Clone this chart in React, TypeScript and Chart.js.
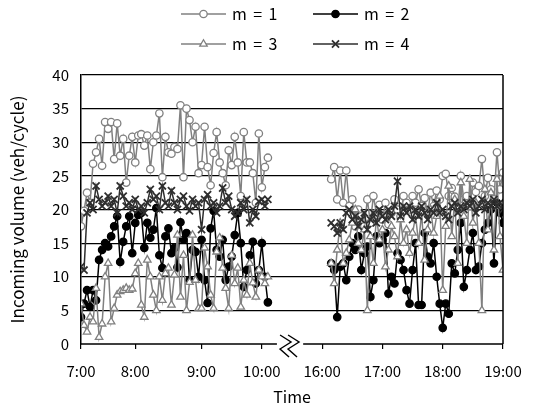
import React, { useEffect, useRef } from 'react';
import { Chart, registerables } from 'chart.js';
Chart.register(...registerables);

const seriesNames = ['m = 1', 'm = 2', 'm = 3', 'm = 4'];
const tickPositions = [0, 18, 40, 60, 80, 100, 120, 140];
const tickLabels = ['7:00', '8:00', '9:00', '10:00', '16:00', '17:00', '18:00', '19:00'];
const yTickStep = 5;
const morningStart = 0;
const afternoonStart = 83;
const breakRange = [65, 73.7];

const m1Morning = [17.5, 19.8, 22.5, 21, 26.8, 28.5, 30.5, 26.5, 33, 32, 33, 27.5, 32.8, 28, 30.5, 24, 28, 30.8, 27, 31, 31.2, 29.5, 31, 26, 30, 31, 34.3, 24.8, 30.8, 28.5, 28.3, 29.3, 29, 35.5, 24.8, 35, 33.3, 30, 32.3, 25.4, 26.6, 32.3, 26.3, 23.6, 28.4, 31.5, 27, 25.4, 23.6, 28.8, 26.6, 30.8, 27, 22, 31.5, 27, 27, 25.4, 21, 31.3, 23.3, 26.3, 27.7];
const m2Morning = [4, 6, 8, 5.5, 8, 6.5, 12.5, 14, 15, 14.5, 16, 17.5, 19, 12.2, 15.2, 17.5, 19, 13.5, 18, 19.2, 19.5, 14.3, 18, 15.8, 17, 20.2, 13.2, 11.3, 16, 17.2, 13.5, 14.3, 11.4, 18.1, 15.5, 16.5, 9.5, 14, 13.7, 10, 15.5, 9.5, 6.1, 17.2, 19.8, 14, 13, 15.5, 9.5, 11.5, 13, 16.2, 19.5, 15, 8.5, 11, 13.2, 15.2, 9, 11, 15, 10, 6.2];
const m3Morning = [6, 2.8, 1.8, 4, 3.3, 8.3, 1, 3, 10, 12, 3.3, 5.3, 7.3, 7.8, 8, 8.3, 8, 8.2, 10.5, 12, 5.8, 4, 12.5, 10, 7.3, 5, 10, 6.5, 10.5, 11.3, 5.8, 10.3, 16.2, 7, 13.2, 5, 9.2, 16.2, 9.5, 5.3, 5.3, 14.3, 11.5, 7.3, 5.3, 13.7, 15.8, 11.3, 8.3, 5.3, 13.2, 9, 11.3, 5.5, 9.5, 7.3, 12, 9.1, 7, 11, 10, 9, 10];
const m4Morning = [11.5, 11, 19.5, 21, 20, 23.5, 21.5, 20.5, 21, 22, 20.5, 21.5, 19.5, 23.5, 22, 20.5, 21, 20, 21.5, 20, 20.5, 19.5, 21, 23, 21.5, 22, 20, 23.5, 21, 20.5, 22.8, 21, 20, 21.5, 22, 20.5, 19.8, 21.5, 20.5, 21, 17, 21.5, 22.2, 20.5, 21, 19.5, 20.5, 23.2, 21, 22, 20, 19, 19.5, 21, 20, 21.5, 18, 20, 19, 21.2, 21.5, 20.5, 21.5];

const m1Afternoon = [24.5, 26.3, 21.5, 25.8, 21, 25.8, 20.5, 21.5, 17.5, 20, 19, 17.5, 21.5, 18, 22, 19.5, 20.7, 18.5, 21, 17.8, 19.5, 21.5, 20, 19, 22, 21, 20, 22, 21, 23, 20.5, 21.7, 19.5, 22.5, 20.5, 22.8, 21.5, 25, 25.3, 22, 23.2, 21.9, 20, 25, 21.5, 22, 20.5, 24, 22.6, 23.5, 27.5, 22, 24.7, 23, 21.5, 28.5, 23, 25.5];
const m2Afternoon = [12, 11, 4, 11.5, 12, 9.5, 13, 15, 14, 16, 11, 13.5, 14.5, 7, 9.5, 16, 15, 15.5, 16.5, 7.5, 10, 9, 13.5, 12.5, 11, 8, 6, 11, 15, 5.8, 5.8, 16.5, 13, 12, 15, 10, 6, 2.4, 6, 4.5, 12, 10.5, 14, 18, 8.5, 11, 14, 16.5, 11, 11.5, 15, 17, 18, 20, 12, 21, 19.5, 18];
const m3Afternoon = [12, 9, 14, 18, 12, 13.5, 15.5, 18, 20, 15, 14, 17, 5, 16, 12, 19, 15.5, 17, 11.5, 14, 17.5, 16, 13, 18.5, 15, 17, 13.5, 16.5, 19, 15, 19.5, 12.5, 17, 20, 16.5, 19, 22, 8, 17.5, 23.5, 16, 21.5, 12, 24, 19, 15, 24.5, 18, 21, 15, 5, 23, 17, 22.5, 14, 24.5, 16, 11];
const m4Afternoon = [18, 17.5, 16.5, 18, 17, 19.5, 20, 18.5, 19, 17.5, 18.5, 19.5, 17, 18.5, 19.5, 18, 20, 19, 18.5, 20, 19, 20.5, 24.2, 19, 20.5, 19.5, 20.5, 18.5, 20, 19, 20.5, 19.5, 18.5, 20, 19.5, 21, 19.5, 20, 19, 18.5, 20.5, 21, 19.5, 20.5, 20, 21, 20.5, 21.5, 19.5, 20.5, 21.5, 20, 21, 20.5, 21.5, 20.5, 21, 20];

const FONT = '"Noto Sans CJK JP", "Noto Sans", sans-serif';
const GRAY = '#808080';
const DARK = '#2e2e2e';

function buildPoints(morning: number[], afternoon: number[]) {
  const pts: { x: number; y: number | null }[] = morning.map((v, i) => ({ x: morningStart + i, y: v }));
  pts.push({ x: (breakRange[0] + breakRange[1]) / 2, y: null });
  afternoon.forEach((v, i) => pts.push({ x: afternoonStart + i, y: v }));
  return pts;
}

const styles = [
  { line: GRAY, marker: 'circle', fill: '#ffffff', stroke: GRAY, r: 3.7, bw: 1.3 },
  { line: '#000000', marker: 'circle', fill: '#000000', stroke: '#000000', r: 3.7, bw: 1.3 },
  { line: GRAY, marker: 'triangle', fill: '#ffffff', stroke: GRAY, r: 4.3, bw: 1.3 },
  { line: DARK, marker: 'crossRot', fill: DARK, stroke: DARK, r: 5, bw: 1.8 },
];

function drawMarker(ctx: CanvasRenderingContext2D, kind: string, x: number, y: number, r: number, fill: string, stroke: string, bw: number) {
  ctx.save();
  ctx.lineWidth = bw;
  ctx.strokeStyle = stroke;
  ctx.fillStyle = fill;
  ctx.beginPath();
  if (kind === 'circle') {
    ctx.arc(x, y, r, 0, Math.PI * 2);
    ctx.fill();
    ctx.stroke();
  } else if (kind === 'triangle') {
    const a = (Math.PI * 2) / 3;
    for (let k = 0; k < 3; k++) {
      const ang = -Math.PI / 2 + k * a;
      const px = x + Math.cos(ang) * r;
      const py = y + Math.sin(ang) * r;
      if (k === 0) ctx.moveTo(px, py); else ctx.lineTo(px, py);
    }
    ctx.closePath();
    ctx.fill();
    ctx.stroke();
  } else {
    const d = r * Math.SQRT1_2;
    ctx.moveTo(x - d, y - d); ctx.lineTo(x + d, y + d);
    ctx.moveTo(x + d, y - d); ctx.lineTo(x - d, y + d);
    ctx.stroke();
  }
  ctx.restore();
}

const decorPlugin = {
  id: 'decor',
  afterDraw(chart: any) {
    const { ctx, chartArea: ca, scales } = chart;
    const xs = scales.x;
    ctx.save();
    ctx.strokeStyle = '#000';
    ctx.lineWidth = 1.5;
    // right border
    ctx.beginPath();
    ctx.moveTo(ca.right, ca.top);
    ctx.lineTo(ca.right, ca.bottom);
    ctx.stroke();
    // bottom axis with break
    const g0 = xs.getPixelForValue(breakRange[0]);
    const g1 = xs.getPixelForValue(breakRange[1]);
    const yb = ca.bottom;
    ctx.beginPath();
    ctx.moveTo(ca.left, yb);
    ctx.lineTo(g0, yb);
    ctx.moveTo(g1, yb);
    ctx.lineTo(ca.right, yb);
    ctx.stroke();
    // break symbol
    const cx = (g0 + g1) / 2;
    ctx.lineWidth = 1.4;
    [-4, 4].forEach((dx) => {
      ctx.beginPath();
      ctx.moveTo(cx + dx - 6, yb - 9);
      ctx.lineTo(cx + dx + 5, yb - 2);
      ctx.lineTo(cx + dx - 6, yb + 5);
      ctx.lineTo(cx + dx + 3, yb + 13);
      ctx.stroke();
    });
    // legend
    const colX = [181, 313];
    const rowY = [14, 44];
    ctx.font = '16px ' + FONT;
    (ctx as any).letterSpacing = '1.4px';
    ctx.textBaseline = 'middle';
    ctx.textAlign = 'left';
    ctx.fillStyle = '#000';
    seriesNames.forEach((name, i) => {
      const s = styles[i];
      const x0 = colX[i % 2];
      const y = rowY[Math.floor(i / 2)];
      ctx.strokeStyle = s.line;
      ctx.lineWidth = 1.6;
      ctx.beginPath();
      ctx.moveTo(x0, y);
      ctx.lineTo(x0 + 45, y);
      ctx.stroke();
      drawMarker(ctx, s.marker, x0 + 22.5, y, s.r, s.fill, s.stroke, s.bw);
      ctx.fillStyle = '#000';
      ctx.fillText(name, x0 + 51, y);
    });
    ctx.restore();
  },
};

export default function App() {
  const ref = useRef<HTMLCanvasElement | null>(null);
  useEffect(() => {
    if (!ref.current) return;
    const seriesData = [
      buildPoints(m1Morning, m1Afternoon),
      buildPoints(m2Morning, m2Afternoon),
      buildPoints(m3Morning, m3Afternoon),
      buildPoints(m4Morning, m4Afternoon),
    ];
    const datasets = seriesNames.map((name, i) => ({
      label: name,
      data: seriesData[i],
      borderColor: styles[i].line,
      borderWidth: 1.5,
      pointStyle: styles[i].marker,
      pointRadius: styles[i].r,
      pointBackgroundColor: styles[i].fill,
      pointBorderColor: styles[i].stroke,
      pointBorderWidth: styles[i].bw,
      spanGaps: false,
      tension: 0,
      order: 4 - i,
    }));
    const tickFont = { family: FONT, size: 15 };
    const chart = new Chart(ref.current, {
      type: 'line',
      data: { datasets } as any,
      options: {
        animation: false,
        responsive: true,
        maintainAspectRatio: false,
        layout: { padding: { top: 75, right: 34, left: 0, bottom: 0 } },
        plugins: { legend: { display: false }, tooltip: { enabled: false } },
        scales: {
          x: {
            type: 'linear',
            min: tickPositions[0],
            max: tickPositions[tickPositions.length - 1],
            afterBuildTicks: (s: any) => {
              s.ticks = tickPositions.map((v) => ({ value: v }));
            },
            afterFit: (s: any) => {
              s.height = 64;
            },
            ticks: {
              autoSkip: false,
              maxRotation: 0,
              minRotation: 0,
              font: tickFont,
              color: '#000',
              padding: 13,
              callback: (_v: any, i: number) => tickLabels[i],
            },
            grid: { drawOnChartArea: false, drawTicks: true, tickLength: 5, color: '#000', lineWidth: 1.2 },
            border: { display: false },
            title: { display: true, text: 'Time', font: { family: FONT, size: 16 }, color: '#000', padding: { top: 0, bottom: 1 } },
          },
          y: {
            min: 0,
            max: 40,
            afterFit: (s: any) => {
              s.width = 81;
            },
            ticks: { stepSize: yTickStep, font: tickFont, color: '#000', padding: 12 },
            grid: {
              color: (c: any) => (c.tick && c.tick.value === 0 ? 'rgba(0,0,0,0)' : '#000'),
              drawTicks: false,
              lineWidth: 1.2,
            },
            border: { display: true, color: '#000', width: 1.5 },
            title: { display: true, text: 'Incoming volume (veh/cycle)', font: { family: FONT, size: 17 }, color: '#000', padding: { top: 7, bottom: 0 } },
          },
        },
      } as any,
      plugins: [decorPlugin],
    });
    return () => chart.destroy();
  }, []);
  return (
    <div style={{ position: 'fixed', left: 0, top: 0, width: 537, height: 408, background: '#fff' }}>
      <canvas ref={ref} />
    </div>
  );
}
